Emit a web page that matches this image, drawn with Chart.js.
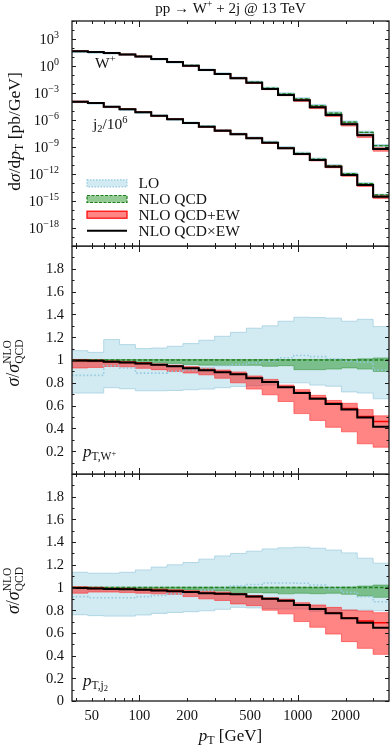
<!DOCTYPE html>
<html lang="en">
<head>
<meta charset="UTF-8">
<title>pp → W+ + 2j @ 13 TeV</title>
<script src="https://cdn.jsdelivr.net/npm/chart.js"></script>
<style>
  body { margin: 0; background: #fff; }
  #wrap { position: relative; width: 390px; height: 746px; }
  canvas { position: absolute; left: 0; }
</style>
</head>
<body>
<div id="wrap">
  <canvas id="topChart" width="390" height="247" style="top:0"></canvas>
  <canvas id="midChart" width="390" height="229" style="top:246px"></canvas>
  <canvas id="botChart" width="390" height="272" style="top:474px"></canvas>
</div>
<script>
// pT bin edges [GeV]
const binEdges = [37.58, 47.32, 59.57, 74.99, 94.41, 118.85, 149.62, 188.36, 237.14, 298.54,
  375.84, 473.15, 595.66, 749.89, 944.06, 1188.5, 1496.2, 1883.6, 2371.4, 2985.4, 3758.4];

// NLO QCD central values, dsigma/dpT [pb/GeV]
const wQcd = [43, 36.5, 28, 19.5, 11.9, 6.3, 2.9, 1.15, 0.40, 0.145,
  0.049, 0.0164, 3.4e-3, 7.9e-4, 2.2e-4, 3.9e-5, 5.9e-6, 5.8e-7, 4.2e-8, 1.45e-9];
const j2Qcd = [110, 78.6, 30.4, 15.8, 7.35, 3.08, 1.24, 0.49, 0.19, 0.069,
  0.0277, 0.0101, 3.3e-3, 8.2e-4, 1.96e-4, 4.4e-5, 8.4e-6, 1.06e-6, 8.7e-8, 4.65e-9];
const j2Scale = 1e-6;

// ratios to NLO QCD, W+ pT
const wLoLow  = [0.71, 0.71, 0.757, 0.748, 0.73, 0.73, 0.733, 0.739, 0.745, 0.757, 0.768, 0.774, 0.78, 0.80, 0.80, 0.78, 0.77, 0.72, 0.71, 0.66];
const wLoHigh = [1.082, 1.067, 1.179, 1.135, 1.10, 1.105, 1.12, 1.144, 1.173, 1.208, 1.243, 1.279, 1.30, 1.34, 1.375, 1.372, 1.367, 1.34, 1.357, 1.293];
const wLo     = [0.865, 0.865, 0.95, 0.93, 0.885, 0.885, 0.90, 0.915, 0.93, 0.95, 0.96, 0.975, 0.99, 1.02, 1.04, 1.03, 1.01, 0.99, 0.98, 0.91];
const wQcdLow  = [0.985, 0.985, 0.983, 0.98, 0.978, 0.975, 0.97, 0.96, 0.955, 0.953, 0.953, 0.953, 0.945, 0.95, 0.915, 0.915, 0.92, 0.93, 0.92, 0.90];
const wQcdHigh = [1.004, 1.004, 1.004, 1.004, 1.004, 1.004, 1.004, 1.004, 1.004, 1.004, 1.004, 1.004, 1.004, 1.004, 1.005, 1.005, 1.005, 1.005, 1.01, 1.018];
const wQcdMid  = [1, 1, 1, 1, 1, 1, 1, 1, 1, 1, 1, 1, 1, 1, 1, 1, 1, 1, 1, 1];
const wEwLow  = [0.93, 0.935, 0.944, 0.94, 0.927, 0.915, 0.90, 0.886, 0.87, 0.84, 0.80, 0.745, 0.695, 0.636, 0.53, 0.47, 0.41, 0.37, 0.265, 0.235];
const wEwHigh = [1.005, 1.004, 0.995, 0.988, 0.978, 0.966, 0.954, 0.942, 0.928, 0.912, 0.895, 0.86, 0.83, 0.78, 0.74, 0.69, 0.645, 0.62, 0.565, 0.51];
const wEw     = [0.995, 0.993, 0.985, 0.978, 0.97, 0.958, 0.945, 0.928, 0.91, 0.892, 0.875, 0.84, 0.808, 0.762, 0.715, 0.665, 0.62, 0.575, 0.505, 0.46];
const wEwMult = [0.995, 0.993, 0.985, 0.978, 0.97, 0.958, 0.945, 0.928, 0.91, 0.892, 0.875, 0.84, 0.808, 0.762, 0.71, 0.66, 0.615, 0.565, 0.495, 0.415];

// ratios to NLO QCD, second jet pT
const jLoLow  = [0.76, 0.752, 0.748, 0.748, 0.758, 0.772, 0.78, 0.787, 0.795, 0.808, 0.825, 0.82, 0.815, 0.81, 0.81, 0.79, 0.79, 0.80, 0.80, 0.795];
const jLoHigh = [1.134, 1.126, 1.126, 1.134, 1.155, 1.18, 1.20, 1.22, 1.25, 1.278, 1.30, 1.32, 1.34, 1.35, 1.355, 1.346, 1.33, 1.305, 1.258, 1.214];
const jLo     = [0.92, 0.91, 0.91, 0.91, 0.92, 0.93, 0.944, 0.958, 0.975, 0.995, 1.014, 1.026, 1.04, 1.04, 1.037, 1.022, 0.99, 0.957, 0.92, 0.875];
const jQcdLow  = [0.99, 0.99, 0.99, 0.99, 0.988, 0.985, 0.982, 0.978, 0.975, 0.97, 0.955, 0.955, 0.952, 0.944, 0.949, 0.945, 0.949, 0.94, 0.925, 0.913];
const jQcdHigh = [1.003, 1.003, 1.003, 1.003, 1.003, 1.003, 1.003, 1.003, 1.003, 1.003, 1.003, 1.003, 1.003, 1.003, 1.003, 1.003, 1.003, 1.005, 1.013, 1.022];
const jQcdMid  = [1, 1, 1, 1, 1, 1, 1, 1, 1, 1, 1, 1, 1, 1, 1, 1, 1, 1, 1, 1];
const jEwLow  = [0.95, 0.96, 0.96, 0.955, 0.95, 0.944, 0.94, 0.92, 0.90, 0.886, 0.855, 0.84, 0.80, 0.768, 0.70, 0.65, 0.59, 0.523, 0.464, 0.411];
const jEwHigh = [1.008, 1.003, 0.997, 0.994, 0.987, 0.987, 0.98, 0.973, 0.968, 0.96, 0.944, 0.93, 0.91, 0.897, 0.866, 0.846, 0.825, 0.802, 0.793, 0.778];
const jEw     = [0.996, 0.992, 0.987, 0.984, 0.98, 0.973, 0.968, 0.96, 0.95, 0.945, 0.94, 0.92, 0.90, 0.884, 0.848, 0.813, 0.776, 0.732, 0.705, 0.69];
const jEwMult = [0.996, 0.992, 0.987, 0.984, 0.98, 0.973, 0.968, 0.96, 0.95, 0.945, 0.94, 0.92, 0.90, 0.884, 0.846, 0.811, 0.773, 0.728, 0.69, 0.646];

// tick labels
const xTickVals = [50, 100, 200, 500, 1000, 2000];
const xTickLabels = ['50', '100', '200', '500', '1000', '2000'];
const topTickVals = [1e3, 1e0, 1e-3, 1e-6, 1e-9, 1e-12, 1e-15, 1e-18];
const topTickExps = ['3', '0', '\u22123', '\u22126', '\u22129', '\u221212', '\u221215', '\u221218'];
const ratioTickVals = [0, 0.2, 0.4, 0.6, 0.8, 1, 1.2, 1.4, 1.6, 1.8];
const ratioTickLabels = ['0', '0.2', '0.4', '0.6', '0.8', '1', '1.2', '1.4', '1.6', '1.8'];

const legendLabels = ['LO', 'NLO QCD', 'NLO QCD+EW', 'NLO QCD\u00d7EW'];

const FONT = '"Liberation Serif", "DejaVu Serif", serif';
const LO_FILL = 'rgba(173, 216, 230, 0.55)';
const LO_EDGE = 'rgba(150, 200, 220, 0.8)';
const LO_LINE = '#93c9df';
const QCD_FILL = 'rgba(0, 128, 0, 0.42)';
const QCD_EDGE = 'rgba(0, 120, 0, 0.45)';
const QCD_LINE = '#1f7f1f';
const EW_FILL = 'rgba(255, 0, 0, 0.48)';
const EW_EDGE = 'rgba(255, 40, 40, 0.7)';
const EW_LINE = '#ff0000';

function steps(vals, mul) {
  const pts = vals.map((v, i) => ({ x: binEdges[i], y: v * (mul ? mul[i] : 1) }));
  pts.push({ x: binEdges[vals.length], y: pts[pts.length - 1].y });
  return pts;
}

function histSets(r, mul) {
  const base = { pointRadius: 0, stepped: true, fill: false };
  return [
    { ...base, data: steps(r.loLow, mul), borderColor: LO_EDGE, borderWidth: 0.8, order: 6 },
    { ...base, data: steps(r.loHigh, mul), borderColor: LO_EDGE, borderWidth: 0.8, backgroundColor: LO_FILL, fill: '-1', order: 6 },
    { ...base, data: steps(r.lo, mul), borderColor: LO_LINE, borderWidth: 1.6, borderDash: [1.5, 2.2], order: 3 },
    { ...base, data: steps(r.qcdLow, mul), borderColor: QCD_EDGE, borderWidth: 0.8, order: 5 },
    { ...base, data: steps(r.qcdHigh, mul), borderColor: QCD_EDGE, borderWidth: 0.8, backgroundColor: QCD_FILL, fill: '-1', order: 5 },
    { ...base, data: steps(r.qcdMid, mul), borderColor: QCD_LINE, borderWidth: 1.3, borderDash: [3.5, 2], order: 2 },
    { ...base, data: steps(r.ewLow, mul), borderColor: EW_EDGE, borderWidth: 0.8, order: 4 },
    { ...base, data: steps(r.ewHigh, mul), borderColor: EW_EDGE, borderWidth: 0.8, backgroundColor: EW_FILL, fill: '-1', order: 4 },
    { ...base, data: steps(r.ew, mul), borderColor: EW_LINE, borderWidth: 1.6, order: 1 },
    { ...base, data: steps(r.ewMult, mul), borderColor: '#000', borderWidth: 2, order: 0 }
  ];
}

const wRatios = { loLow: wLoLow, loHigh: wLoHigh, lo: wLo, qcdLow: wQcdLow, qcdHigh: wQcdHigh, qcdMid: wQcdMid,
  ewLow: wEwLow, ewHigh: wEwHigh, ew: wEw, ewMult: wEwMult };
const jRatios = { loLow: jLoLow, loHigh: jLoHigh, lo: jLo, qcdLow: jQcdLow, qcdHigh: jQcdHigh, qcdMid: jQcdMid,
  ewLow: jEwLow, ewHigh: jEwHigh, ew: jEw, ewMult: jEwMult };

// ---- text helpers ----
function fontOf(p) { return (p.i ? 'italic ' : '') + p.s + 'px ' + FONT; }

function rich(ctx, parts, x, y, align) {
  const widths = parts.map(p => { ctx.font = fontOf(p); return ctx.measureText(p.t).width; });
  let total = 0, hold = 0;
  parts.forEach((p, i) => {
    if (p.keep) hold = Math.max(hold, widths[i]);
    else { total += Math.max(hold, widths[i]); hold = 0; }
  });
  let cx = align === 'center' ? x - total / 2 : align === 'right' ? x - total : x;
  hold = 0;
  ctx.textBaseline = 'alphabetic';
  ctx.textAlign = 'left';
  parts.forEach((p, i) => {
    ctx.font = fontOf(p);
    ctx.fillText(p.t, cx, y + (p.dy || 0));
    if (p.keep) hold = Math.max(hold, widths[i]);
    else { cx += Math.max(hold, widths[i]); hold = 0; }
  });
}

function rotated(ctx, parts, x, y) {
  ctx.save();
  ctx.translate(x, y);
  ctx.rotate(-Math.PI / 2);
  rich(ctx, parts, 0, 0, 'center');
  ctx.restore();
}

function seg(ctx, x1, y1, x2, y2) {
  ctx.beginPath();
  ctx.moveTo(x1, y1);
  ctx.lineTo(x2, y2);
  ctx.stroke();
}

// frame with inward ticks on all four sides
function drawFrame(chart, yTicks) {
  const ctx = chart.ctx, a = chart.chartArea, sx = chart.scales.x, sy = chart.scales.y;
  ctx.save();
  ctx.strokeStyle = '#1a1a1a';
  ctx.lineWidth = 1;
  for (let d = 10; d <= 1000; d *= 10) {
    for (let k = 1; k <= 9; k++) {
      const v = k * d;
      if (v < sx.min || v > sx.max) continue;
      const px = Math.round(sx.getPixelForValue(v)) + 0.5;
      const len = k === 1 ? 6 : 3;
      seg(ctx, px, a.bottom, px, a.bottom - len);
      seg(ctx, px, a.top, px, a.top + len);
    }
  }
  yTicks.forEach(t => {
    const py = Math.round(sy.getPixelForValue(t.v)) + 0.5;
    seg(ctx, a.left, py, a.left + t.len, py);
    seg(ctx, a.right, py, a.right - t.len, py);
  });
  ctx.lineWidth = 1.3;
  ctx.strokeRect(a.left, a.top, a.right - a.left, a.bottom - a.top);
  ctx.restore();
}

function ratioTicks() {
  const t = [];
  for (let i = 0; i <= 20; i++) t.push({ v: i / 10, len: i % 2 === 0 ? 4 : 2.5 });
  return t;
}

function decadeTicks() {
  const t = [];
  for (let e = -20; e <= 5; e++) t.push({ v: Math.pow(10, e), len: e % 3 === 0 ? 4 : 2.5 });
  return t;
}

function drawRatioLabels(chart, skipZero) {
  const ctx = chart.ctx, a = chart.chartArea, sy = chart.scales.y;
  ctx.save();
  ctx.fillStyle = '#111';
  ctx.font = '14.5px ' + FONT;
  ctx.textAlign = 'right';
  ctx.textBaseline = 'middle';
  ratioTickVals.forEach((v, i) => {
    if (skipZero && v === 0) return;
    ctx.fillText(ratioTickLabels[i], a.left - 8, sy.getPixelForValue(v) + 0.5);
  });
  ctx.fillStyle = '#111';
  rotated(ctx, [
    { t: '\u03c3', s: 18, i: true }, { t: '/', s: 18 }, { t: '\u03c3', s: 18, i: true },
    { t: 'NLO', s: 11.5, dy: -8, keep: true }, { t: 'QCD', s: 11.5, dy: 4.5 }
  ], 18.5, (a.top + a.bottom) / 2 + 3);
  ctx.restore();
}

function baseOptions(pad, yScale) {
  return {
    responsive: false,
    animation: false,
    events: [],
    layout: { padding: pad },
    plugins: { legend: { display: false }, tooltip: { enabled: false } },
    scales: {
      x: { type: 'logarithmic', display: false, min: binEdges[0], max: binEdges[binEdges.length - 1] },
      y: yScale
    }
  };
}

// ---- top panel ----
const wAbs = wQcd;
const jAbs = j2Qcd.map(v => v * j2Scale);

new Chart(document.getElementById('topChart'), {
  type: 'line',
  data: { datasets: histSets(wRatios, wAbs).concat(histSets(jRatios, jAbs)) },
  options: baseOptions({ left: 72, right: 1, top: 21, bottom: 1 },
    { type: 'logarithmic', display: false, min: 1e-20, max: 1e5 }),
  plugins: [{
    id: 'topDecor',
    afterDraw(chart) {
      const ctx = chart.ctx, a = chart.chartArea, sy = chart.scales.y;
      drawFrame(chart, decadeTicks());
      ctx.save();
      ctx.fillStyle = '#111';
      // y tick labels
      topTickVals.forEach((v, i) => {
        const py = sy.getPixelForValue(v);
        rich(ctx, [{ t: '10', s: 14.5 }, { t: topTickExps[i], s: 10, dy: -6 }], a.left - 13, py + 5, 'right');
      });
      // title
      rich(ctx, [{ t: 'pp \u2192 W', s: 15 }, { t: '+', s: 10, dy: -6 }, { t: ' + 2j @ 13 TeV', s: 15 }],
        (a.left + a.right) / 2, 13, 'center');
      // y axis title
      rotated(ctx, [
        { t: 'd', s: 17.5 }, { t: '\u03c3', s: 17.5, i: true }, { t: '/d', s: 17.5 }, { t: 'p', s: 17.5, i: true },
        { t: 'T', s: 12, dy: 3 }, { t: ' [pb/GeV]', s: 17.5 }
      ], 19.5, (a.top + a.bottom) / 2 - 2);
      // curve labels
      rich(ctx, [{ t: 'W', s: 15.5 }, { t: '+', s: 10.5, dy: -6 }], 95, 68, 'left');
      rich(ctx, [{ t: 'j', s: 15.5 }, { t: '2', s: 10.5, dy: 3 }, { t: '/10', s: 15.5 }, { t: '6', s: 10.5, dy: -6 }], 93, 129, 'left');
      // legend
      const rows = [183.3, 199, 214.7, 230.7];
      const x0 = 87, w = 40, h = 7;
      ctx.lineWidth = 1.2;
      // LO
      ctx.fillStyle = LO_FILL; ctx.fillRect(x0, rows[0] - h / 2, w, h);
      ctx.strokeStyle = LO_LINE; ctx.setLineDash([1.5, 1.5]); ctx.strokeRect(x0, rows[0] - h / 2, w, h);
      // NLO QCD
      ctx.fillStyle = QCD_FILL; ctx.fillRect(x0, rows[1] - h / 2, w, h);
      ctx.strokeStyle = QCD_LINE; ctx.setLineDash([3, 1.5]); ctx.strokeRect(x0, rows[1] - h / 2, w, h);
      // NLO QCD+EW
      ctx.setLineDash([]);
      ctx.fillStyle = EW_FILL; ctx.fillRect(x0, rows[2] - h / 2, w, h);
      ctx.strokeStyle = EW_LINE; ctx.strokeRect(x0, rows[2] - h / 2, w, h);
      // NLO QCDxEW
      ctx.strokeStyle = '#000'; ctx.lineWidth = 2;
      seg(ctx, x0, rows[3], x0 + w, rows[3]);
      ctx.fillStyle = '#111';
      legendLabels.forEach((lab, i) => rich(ctx, [{ t: lab, s: 15.5 }], 138.5, rows[i] + 5, 'left'));
      ctx.restore();
    }
  }]
});

// ---- middle panel: W+ ----
new Chart(document.getElementById('midChart'), {
  type: 'line',
  data: { datasets: histSets(wRatios) },
  options: baseOptions({ left: 72, right: 1, top: 0, bottom: 1 },
    { type: 'linear', display: false, min: 0, max: 2 }),
  plugins: [{
    id: 'midDecor',
    afterDraw(chart) {
      drawFrame(chart, ratioTicks());
      drawRatioLabels(chart, true);
      const ctx = chart.ctx;
      ctx.save();
      ctx.fillStyle = '#111';
      rich(ctx, [{ t: 'p', s: 17, i: true }, { t: 'T,W', s: 11.5, dy: 3 }, { t: '+', s: 8.5, dy: -1 }], 83, 211, 'left');
      ctx.restore();
    }
  }]
});

// ---- bottom panel: second jet ----
new Chart(document.getElementById('botChart'), {
  type: 'line',
  data: { datasets: histSets(jRatios) },
  options: baseOptions({ left: 72, right: 1, top: 0, bottom: 45 },
    { type: 'linear', display: false, min: 0, max: 2 }),
  plugins: [{
    id: 'botDecor',
    afterDraw(chart) {
      drawFrame(chart, ratioTicks());
      drawRatioLabels(chart, false);
      const ctx = chart.ctx, a = chart.chartArea, sx = chart.scales.x;
      ctx.save();
      ctx.fillStyle = '#111';
      rich(ctx, [{ t: 'p', s: 17, i: true }, { t: 'T,j', s: 11.5, dy: 3 }, { t: '2', s: 8.5, dy: 5 }], 83, 212, 'left');
      ctx.font = '14.5px ' + FONT;
      ctx.textAlign = 'center';
      ctx.textBaseline = 'middle';
      xTickVals.forEach((v, i) => ctx.fillText(xTickLabels[i], sx.getPixelForValue(v), a.bottom + 15));
      rich(ctx, [{ t: 'p', s: 17, i: true }, { t: 'T', s: 12, dy: 3 }, { t: ' [GeV]', s: 17 }],
        (a.left + a.right) / 2, 267, 'center');
      ctx.restore();
    }
  }]
});
</script>
</body>
</html>
